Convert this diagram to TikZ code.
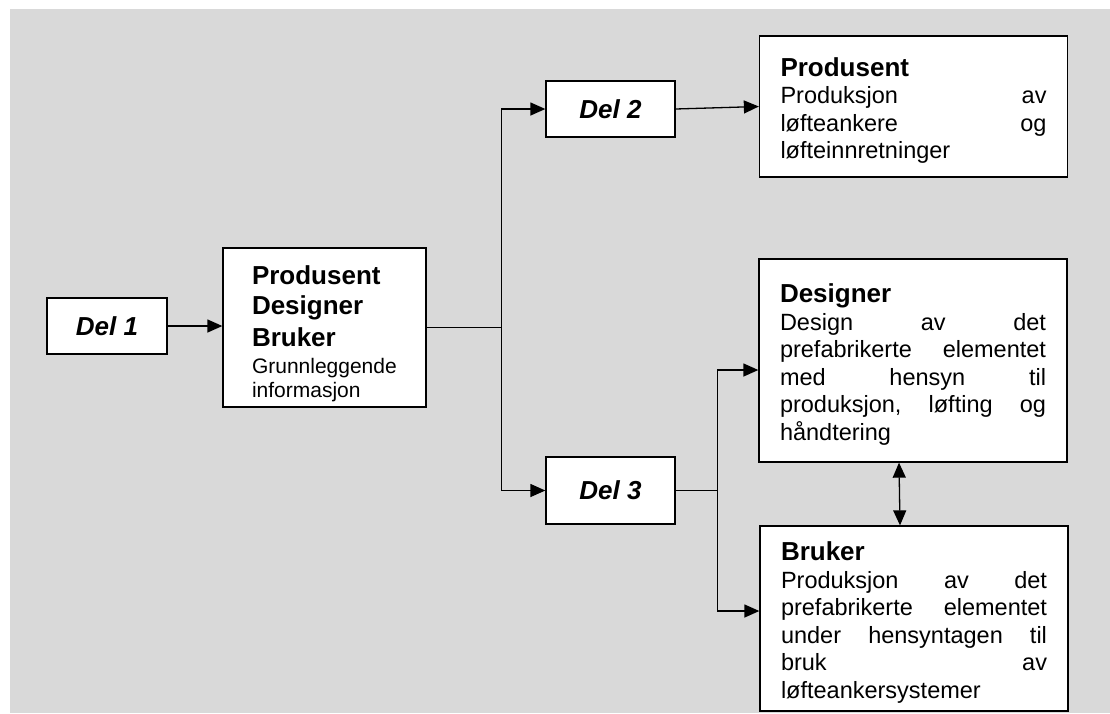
\documentclass[tikz,border=0pt]{standalone}
\usepackage{fontspec}
\setmainfont{Liberation Sans}
\usepackage{tikz}
\usetikzlibrary{
    arrows.meta,
    calc
}
\definecolor{bakgrunn}{RGB}{217,217,217}
\newcommand{\tittel}{\bfseries\fontsize{26}{30}\selectfont}
\newcommand{\brodtekst}{\fontsize{23.5}{27.5}\selectfont}
\newcommand{\liten}{\fontsize{21}{24}\selectfont}
\tikzset{
    boks/.style={draw, fill=white, line width=1.3pt, text width=266pt, inner xsep=21pt, align=left, font=\brodtekst, text height=27pt},
    delboks/.style={draw, fill=white, line width=1.3pt, font=\tittel\itshape},
    linje/.style={line width=1.3pt},
    pil/.style={-{Triangle[length=15pt, width=13pt]}, line width=1.3pt},
    dobbelpil/.style={{Triangle[length=15pt, width=13pt]}-{Triangle[length=15pt, width=13pt]}, line width=1.3pt}
}

\begin{document}
\begin{tikzpicture}[x=1pt, y=-1pt]
    \useasboundingbox (0,0) rectangle (1110,713);
    \fill[bakgrunn] (10,9) rectangle (1110,713);

    \node[delboks, minimum width=120pt, minimum height=56pt] (del1) at (107,326) {Del 1};
    \node[boks, font=\liten, text width=145pt, inner xsep=29pt, minimum height=159pt, text height=31pt] (hoved) at (324.5,327.5)
        {{\tittel Produsent}\\[6pt] {\tittel Designer}\\[6pt] {\tittel Bruker}\\[3pt] Grunnleggende\\ informasjon};
    \node[delboks, minimum width=129pt, minimum height=56pt] (del2) at (610.5,109) {Del 2};
    \node[delboks, minimum width=129pt, minimum height=67pt] (del3) at (610.5,490.5) {Del 3};

    \node[boks, minimum height=141pt] (produsent) at (913.5,106.5)
        {{\tittel Produsent}\\ Produksjon\hfill av\\ løfteankere\hfill og\\ løfteinnretninger};
    \node[boks, minimum height=203pt] (designer) at (913,360.5)
        {{\tittel Designer}\\ Design\hfill av\hfill det\\ prefabrikerte\hfill elementet\\
         med\hfill hensyn\hfill til\\ produksjon,\hfill løfting\hfill og\\ håndtering};
    \node[boks, minimum height=185pt] (bruker) at (914,618.5)
        {{\tittel Bruker}\\ Produksjon\hfill av\hfill det\\ prefabrikerte\hfill elementet\\
         under\hfill hensyntagen\hfill til\\ bruk\hfill av\\ løfteankersystemer};

    \coordinate (gren1) at ($(hoved.east)+(75,0)$);
    \coordinate (gren2) at ($(del3.east)+(42,0)$);

    \draw[pil] (del1.east) -- (hoved.west |- del1.east);
    \draw[linje] (hoved.east) -- (gren1);
    \draw[pil] (gren1) |- (del2.west);
    \draw[pil] (gren1) |- (del3.west);
    \draw[pil] (del2.east) -- (produsent.west);
    \draw[linje] (del3.east) -- (gren2);
    \draw[pil] (gren2) |- ($(designer.west)+(0,9.5)$);
    \draw[pil] (gren2) |- ($(bruker.west)+(0,-7.5)$);
    \draw[dobbelpil] ([xshift=-14pt]designer.south) -- ([xshift=-14pt]bruker.north);
\end{tikzpicture}
\end{document}
